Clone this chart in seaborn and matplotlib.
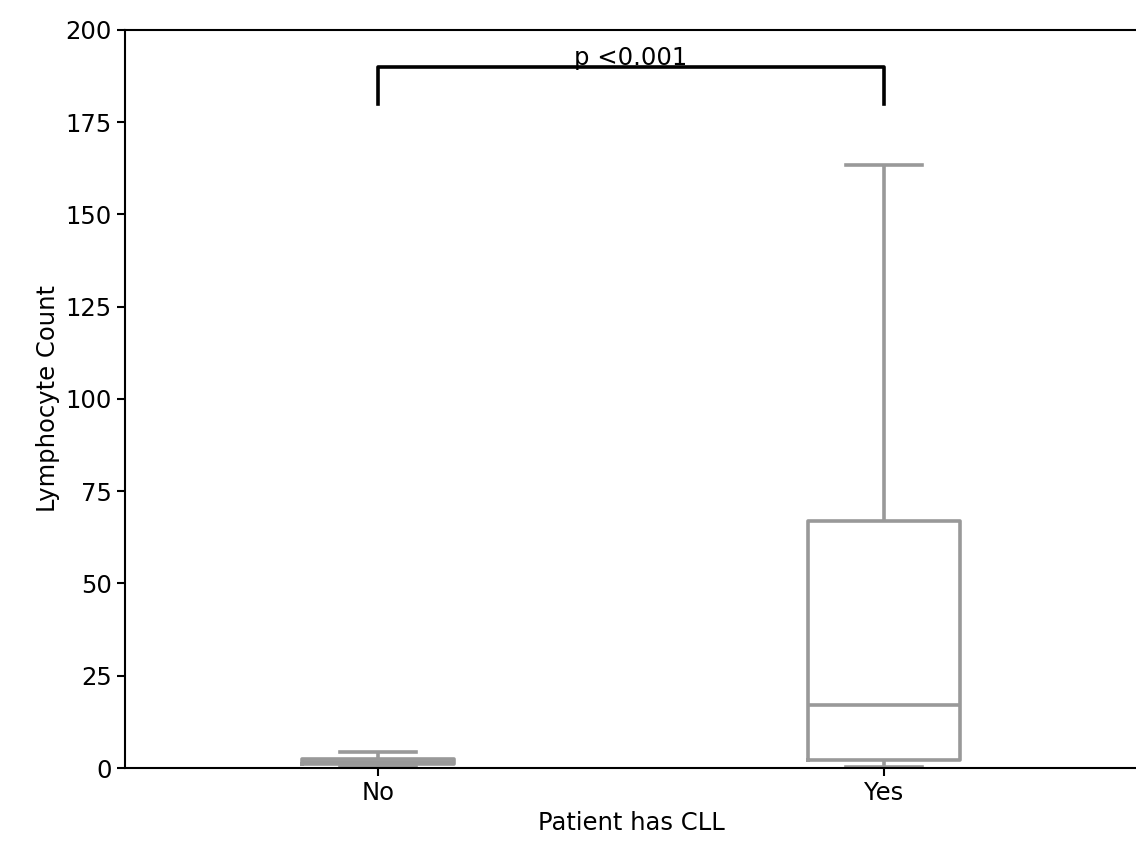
import pandas as pd
import seaborn as sns
import matplotlib.pyplot as plt

# five-number summaries (min, q1, median, q3, max)
groups = ['No', 'Yes']
no_values = [0.3, 1.0, 1.6, 2.5, 4.4]
yes_values = [0.3, 2.3, 17.0, 67.0, 163.5]
p_label = 'p <0.001'

df = pd.DataFrame({
    'Patient has CLL': ['No'] * len(no_values) + ['Yes'] * len(yes_values),
    'Lymphocyte Count': no_values + yes_values,
})

plt.rcParams['font.size'] = 17.5
plt.rcParams['axes.linewidth'] = 1.5
plt.rcParams['xtick.major.width'] = 1.5
plt.rcParams['ytick.major.width'] = 1.5
plt.rcParams['xtick.major.size'] = 6
plt.rcParams['ytick.major.size'] = 6
fig = plt.figure(figsize=(11.36, 8.51), dpi=100)
ax = fig.add_axes([0.11, 0.0975, 0.891, 0.8675])
sns.boxplot(data=df, x='Patient has CLL', y='Lymphocyte Count', order=groups,
            fill=False, color='#999999', width=0.3, linewidth=2.6,
            showfliers=False, ax=ax)
ax.set_ylim(0, 200)
ax.set_xlim(-0.5, 1.5)

# significance bracket
ax.plot([0, 0, 1, 1], [180, 190, 190, 180], color='black', linewidth=2.6)
ax.text(0.5, 189, p_label, ha='center', va='bottom', fontsize=17.5)

plt.savefig('out.png', dpi=100)
